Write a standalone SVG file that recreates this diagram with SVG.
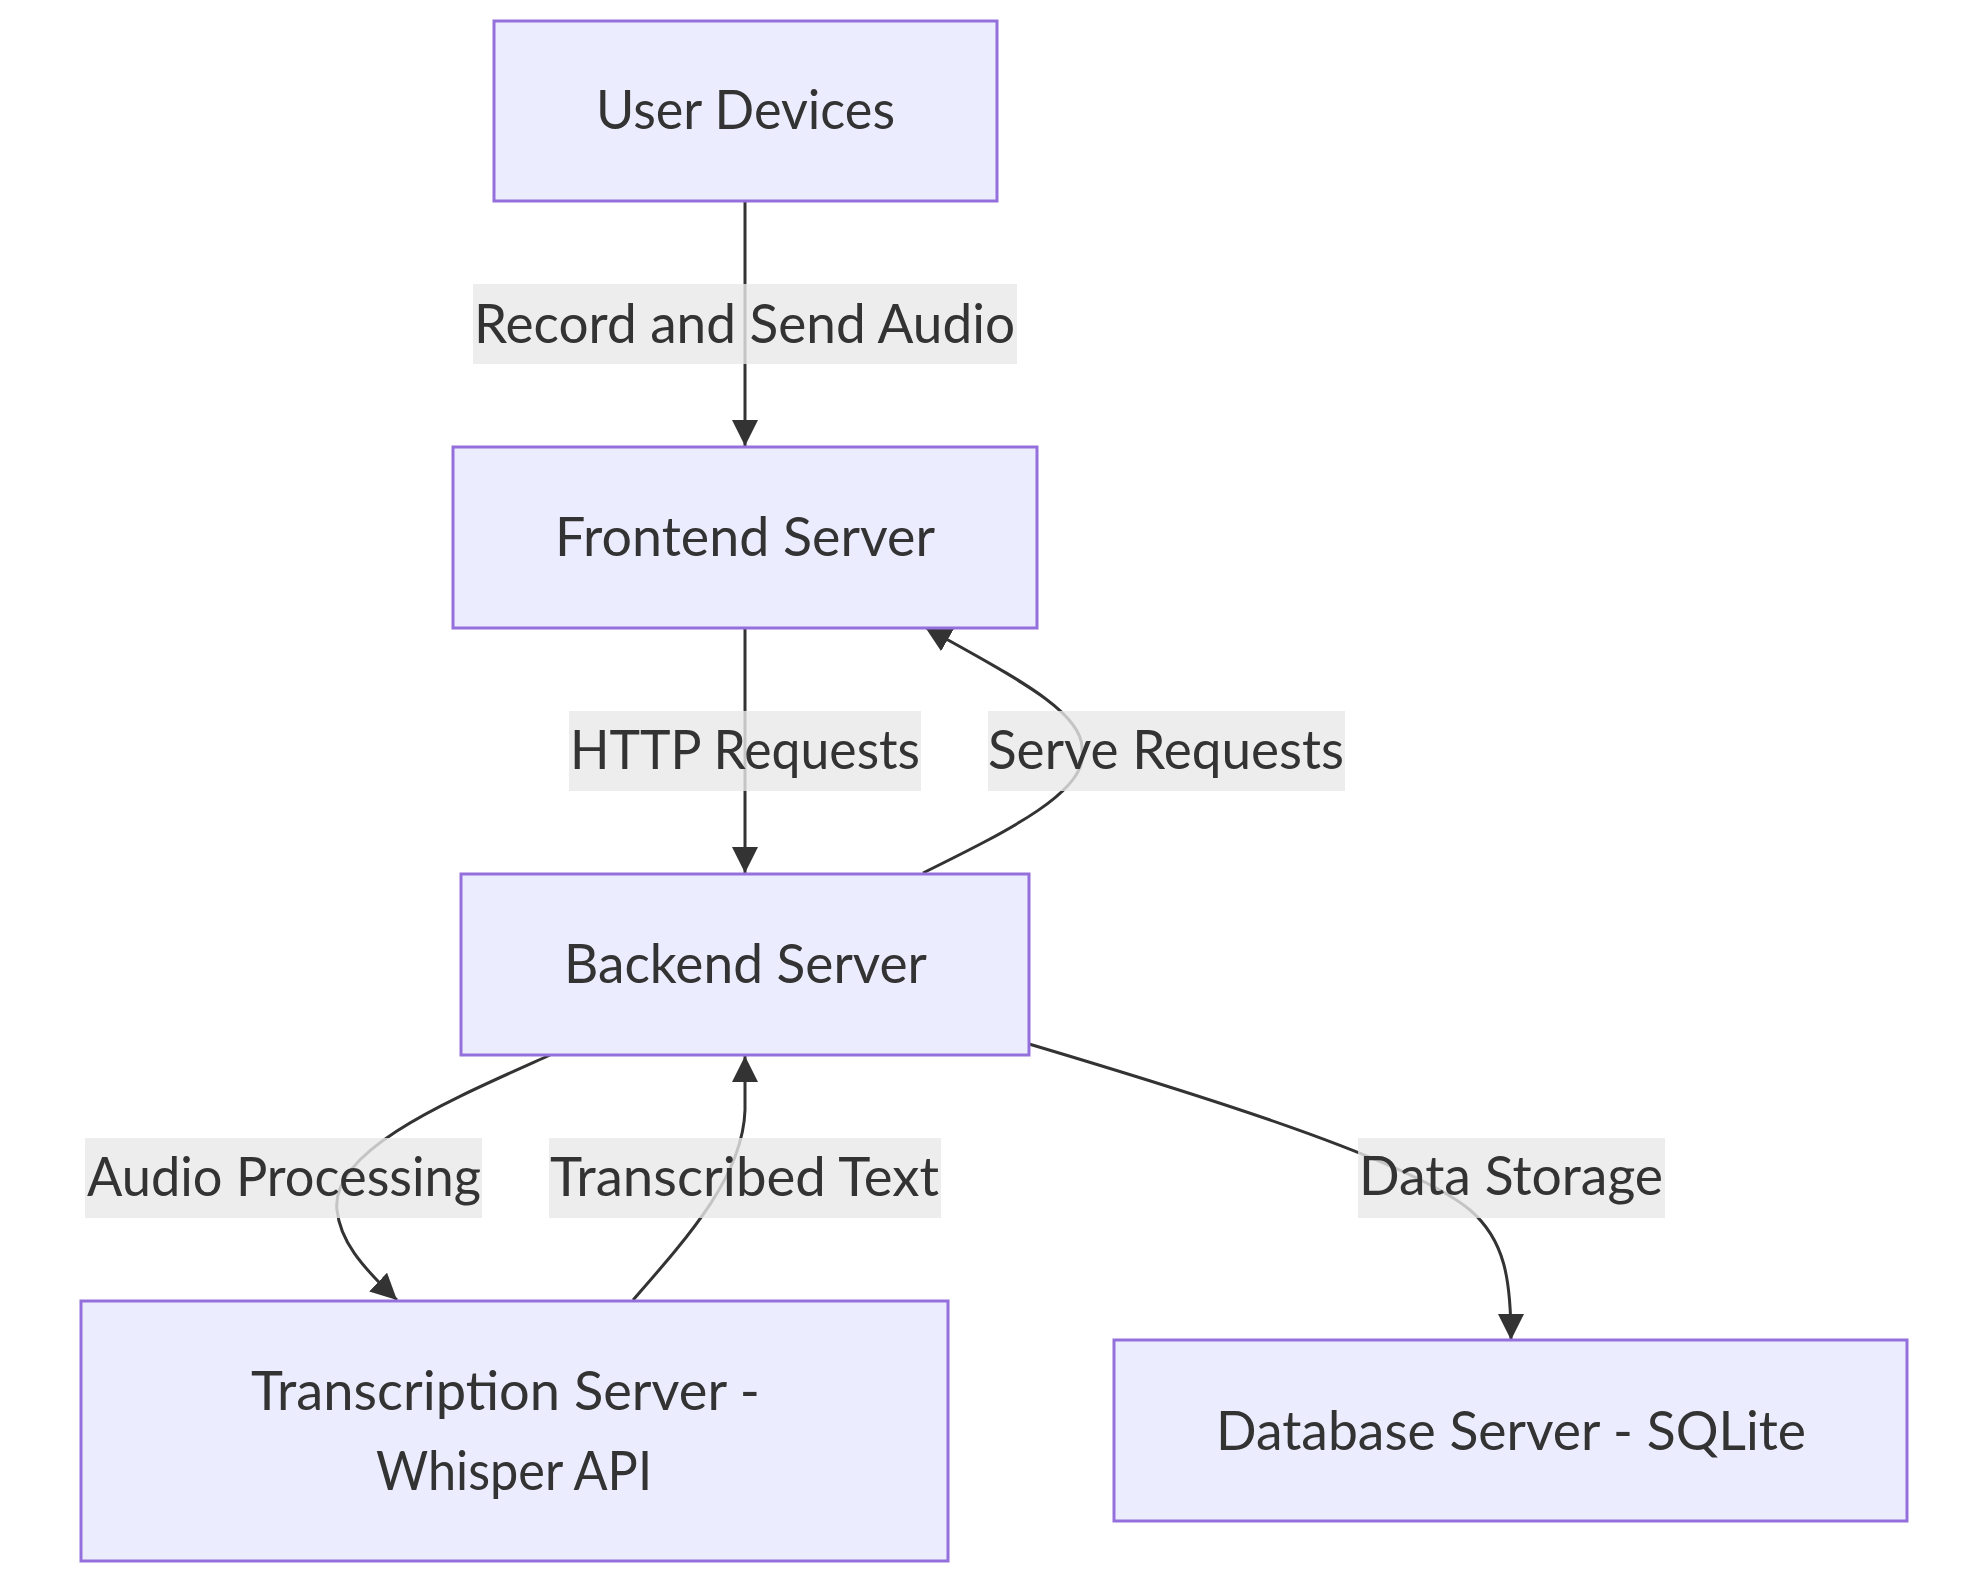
<svg xmlns="http://www.w3.org/2000/svg" width="1982" height="1582" viewBox="0 0 1982 1582">
<defs>
<style>
.node rect{fill:#ECECFF;stroke:#9370DB;stroke-width:3}
.edge{fill:none;stroke:#333333;stroke-width:3}
.lbl{fill:rgba(232,232,232,0.8)}
text{font-family:Lato,"Liberation Sans",sans-serif;font-size:55px;fill:#333333}
</style>
<marker id="arrow" viewBox="0 0 10 10" refX="10" refY="5" markerUnits="userSpaceOnUse" markerWidth="26" markerHeight="26" orient="auto">
<path d="M0,0 L10,5 L0,10 z" fill="#333333"/>
</marker>
</defs>
<rect width="1982" height="1582" fill="#ffffff"/>
<g id="connectors">
<path class="edge" d="M745,201 L745,446" marker-end="url(#arrow)"/>
<path class="edge" d="M745,628 L745,873" marker-end="url(#arrow)"/>
<path class="edge" d="M923,873 C1010,830 1090,790 1082,750 C1085,710 1000,670 925,627" marker-end="url(#arrow)"/>
<path class="edge" d="M550,1055 C450,1100 330,1150 337,1210 C340,1240 360,1265 397,1300" marker-end="url(#arrow)"/>
<path class="edge" d="M633,1300 C690,1235 743,1175 745,1110 L745,1056" marker-end="url(#arrow)"/>
<path class="edge" d="M1029,1044 C1200,1095 1410,1160 1470,1210 C1505,1240 1511,1280 1511,1340" marker-end="url(#arrow)"/>
</g>
<g id="edge-labels">
<g id="label-record"><rect class="lbl" x="473" y="284" width="544" height="80"/><text x="474" y="343" textLength="541" lengthAdjust="spacingAndGlyphs">Record and Send Audio</text></g>
<g id="label-http"><rect class="lbl" x="569" y="711" width="352" height="80"/><text x="570" y="769" textLength="350" lengthAdjust="spacingAndGlyphs">HTTP Requests</text></g>
<g id="label-serve"><rect class="lbl" x="988" y="711" width="357" height="80"/><text x="988" y="769" textLength="356" lengthAdjust="spacingAndGlyphs">Serve Requests</text></g>
<g id="label-audio"><rect class="lbl" x="85" y="1138" width="397" height="80"/><text x="87" y="1196" textLength="394" lengthAdjust="spacingAndGlyphs">Audio Processing</text></g>
<g id="label-transcribed"><rect class="lbl" x="549" y="1138" width="392" height="80"/><text x="550" y="1196" textLength="389" lengthAdjust="spacingAndGlyphs">Transcribed Text</text></g>
<g id="label-data"><rect class="lbl" x="1358" y="1138" width="307" height="80"/><text x="1359" y="1195" textLength="304" lengthAdjust="spacingAndGlyphs">Data Storage</text></g>
</g>
<g id="node-user" class="node"><rect x="494" y="21" width="503" height="180"/><text x="596" y="129" textLength="299" lengthAdjust="spacingAndGlyphs">User Devices</text></g>
<g id="node-frontend" class="node"><rect x="453" y="447" width="584" height="181"/><text x="555" y="556" textLength="380" lengthAdjust="spacingAndGlyphs">Frontend Server</text></g>
<g id="node-backend" class="node"><rect x="461" y="874" width="568" height="181"/><text x="564" y="983" textLength="363" lengthAdjust="spacingAndGlyphs">Backend Server</text></g>
<g id="node-transcription" class="node"><rect x="81" y="1301" width="867" height="260"/><text x="251" y="1410" textLength="509" lengthAdjust="spacingAndGlyphs">Transcription Server -</text><text x="376" y="1490" textLength="276" lengthAdjust="spacingAndGlyphs">Whisper API</text></g>
<g id="node-database" class="node"><rect x="1114" y="1340" width="793" height="181"/><text x="1216" y="1450" textLength="590" lengthAdjust="spacingAndGlyphs">Database Server - SQLite</text></g>
</svg>
